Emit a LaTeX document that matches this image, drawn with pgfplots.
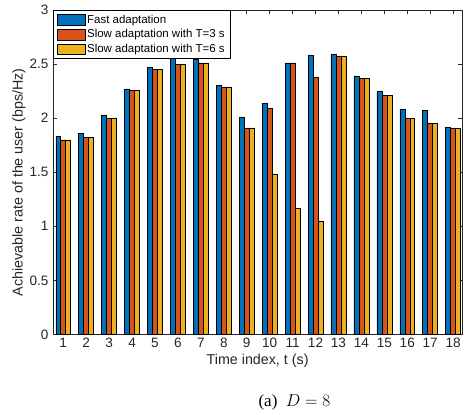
\documentclass[border=0pt]{standalone}
\usepackage{pgfplots}
\pgfplotsset{compat=1.18}
\usepackage{fontspec}
\setmainfont{Liberation Sans}
\newfontfamily\capserif{Liberation Serif}
\definecolor{mblue}{rgb}{0,0.447,0.741}
\definecolor{morange}{rgb}{0.85,0.325,0.098}
\definecolor{myellow}{rgb}{0.929,0.694,0.125}
\definecolor{axgray}{rgb}{0.15,0.15,0.15}
\begin{document}
\begin{tikzpicture}
\begin{axis}[
  width=410pt, height=325pt, scale only axis,
  xmin=0.55, xmax=18.4, ymin=0, ymax=3,
  xtick={1,...,18}, ytick={0,0.5,...,3},
  ybar=0pt, bar width=5pt,
  tick align=inside, major tick length=4pt,
  axis line style={axgray, line width=0.5pt},
  every tick/.style={axgray, line width=0.5pt},
  tick label style={font=\fontsize{13.6}{15}\selectfont, text=axgray},
  yticklabel style={xshift=-1pt},
  /pgf/number format/assume math mode=true,
  label style={font=\fontsize{14.3}{16}\selectfont, text=axgray},
  xlabel={Time index, t (s)},
  ylabel={Achievable rate of the user (bps/Hz)},
  every axis y label/.append style={at={(ticklabel cs:0.469,-3pt)}},
  legend style={at={(0,1)}, anchor=north west, draw=black, line width=0.5pt,
    font=\fontsize{11.5}{13}\selectfont, inner xsep=3.5pt, inner ysep=2.5pt, row sep=1pt},
  legend cell align=left,
  legend image code/.code={\draw[#1, line width=0.5pt] (0pt,-5.5pt) rectangle (28pt,5.5pt);},
  every axis plot/.append style={draw=black, line width=0.5pt},
  clip=false,
]
\addplot[fill=mblue] coordinates {(1,1.83) (2,1.856) (3,2.03) (4,2.27) (5,2.47) (6,2.56) (7,2.54) (8,2.30) (9,2.01) (10,2.14) (11,2.51) (12,2.58) (13,2.59) (14,2.39) (15,2.245) (16,2.08) (17,2.07) (18,1.92)};
\addplot[fill=morange] coordinates {(1,1.80) (2,1.82) (3,2.00) (4,2.26) (5,2.45) (6,2.50) (7,2.51) (8,2.29) (9,1.91) (10,2.09) (11,2.51) (12,2.38) (13,2.575) (14,2.37) (15,2.21) (16,2.00) (17,1.95) (18,1.91)};
\addplot[fill=myellow] coordinates {(1,1.80) (2,1.82) (3,2.00) (4,2.26) (5,2.45) (6,2.50) (7,2.51) (8,2.29) (9,1.91) (10,1.48) (11,1.17) (12,1.05) (13,2.575) (14,2.37) (15,2.21) (16,2.00) (17,1.95) (18,1.91)};
\legend{Fast adaptation, Slow adaptation with T=3 s, Slow adaptation with T=6 s}
\node[font=\fontsize{17}{19}\selectfont] at (axis description cs:0.59,-0.21) {\capserif (a)\ \ $D=8$};
\end{axis}
\path (-53pt,-80pt) rectangle (411pt,335pt);
\end{tikzpicture}
\end{document}
